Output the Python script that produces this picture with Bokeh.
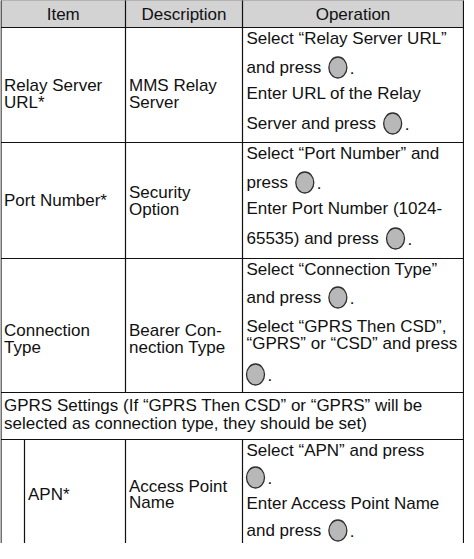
from bokeh.plotting import figure
from bokeh.models import Range1d
from bokeh.core.properties import value
from bokeh.embed import file_html
from bokeh.resources import INLINE

# ---------------- content ----------------
header_labels = ["Item", "Description", "Operation"]
item_lines = [["Relay Server", "URL*"], ["Port Number*"], ["Connection", "Type"], ["APN*"]]
description_lines = [["MMS Relay", "Server"], ["Security", "Option"],
                     ["Bearer Con-", "nection Type"], ["Access Point", "Name"]]
operation_lines = [
    ["Select “Relay Server URL”", "and press", "Enter URL of the Relay", "Server and press"],
    ["Select “Port Number” and", "press", "Enter Port Number (1024-", "65535) and press"],
    ["Select “Connection Type”", "and press", "Select “GPRS Then CSD”,", "“GPRS” or “CSD” and press", ""],
    ["Select “APN” and press", "", "Enter Access Point Name", "and press"],
]
operation_key = [
    [False, True, False, True],
    [False, True, False, True],
    [False, True, False, False, True],
    [False, True, False, True],
]
group_note = ["GPRS Settings (If “GPRS Then CSD” or “GPRS” will be",
              "selected as connection type, they should be set)"]

# ---------------- layout ----------------
W, H = 464, 543
col_x = [8.5, 133.0, 250.0, 471.0]
sub_x = 32.0
row_y = [7.5, 35.0, 150.0, 266.0, 400.0, 447.0, 562.0]
header_y = 21.5
op_y = [[46, 75, 101, 131], [161, 190, 216, 246], [277, 305, 334, 351, 382], [458, 485, 511, 538]]
item_y = [[93, 110], [208], [338, 355], [502]]
desc_y = [[93, 110], [200, 217], [338, 355], [494, 510]]
note_y = [413, 431]
FS = 17

AW = {' ': 278, '!': 278, '(': 333, ')': 333, '*': 389, ',': 278, '-': 333, '.': 278,
      'A': 667, 'B': 667, 'C': 722, 'D': 722, 'E': 667, 'F': 611, 'G': 778, 'H': 722, 'I': 278,
      'L': 556, 'M': 833, 'N': 722, 'O': 778, 'P': 667, 'R': 722, 'S': 667, 'T': 611, 'U': 722,
      'a': 556, 'b': 556, 'c': 500, 'd': 556, 'e': 556, 'f': 278, 'g': 556, 'h': 556, 'i': 222,
      'l': 222, 'm': 833, 'n': 556, 'o': 556, 'p': 556, 'r': 333, 's': 500, 't': 278, 'u': 556,
      'v': 500, 'w': 722, 'y': 500, '“': 333, '”': 333}


def tw(s):
    return sum(AW.get(c, 556) for c in s) * FS / 1000.0


p = figure(width=W, height=H, x_range=Range1d(8, 8 + W), y_range=Range1d(8 + H, 8),
           output_backend="svg", toolbar_location=None, min_border=0,
           x_axis_location=None, y_axis_location=None, outline_line_color=None)
p.grid.visible = False

# header background
p.quad(left=[col_x[0]], right=[col_x[3]], top=[row_y[0]], bottom=[row_y[1]],
       fill_color="#d3d3d3", line_color=None)

# grid lines
x0, y0, x1, y1 = [], [], [], []
for y in row_y[:6]:
    x0.append(col_x[0]); x1.append(col_x[3]); y0.append(y); y1.append(y)
for x in (col_x[0], col_x[3]):
    x0.append(x); x1.append(x); y0.append(row_y[0]); y1.append(row_y[6])
for x in (col_x[1], col_x[2]):
    x0 += [x, x]; x1 += [x, x]; y0 += [row_y[0], row_y[5]]; y1 += [row_y[4], row_y[6]]
x0.append(sub_x); x1.append(sub_x); y0.append(row_y[5]); y1.append(row_y[6])
p.segment(x0=x0, y0=y0, x1=x1, y1=y1, line_color="#111111", line_width=1.2)

font = value("Liberation Sans")
tcol = "#111111"

# header texts
hx = [(col_x[i] + col_x[i + 1]) / 2 for i in range(3)]
p.text(x=hx, y=[header_y] * 3, text=header_labels, text_font=font, text_font_size=f"{FS}px",
       text_align="center", text_baseline="middle", text_color=tcol)

tx, ty, tt = [], [], []
cx, cy = [], []
px_, py_ = [], []
for r in range(4):
    ix = (sub_x + 3.5) if r == 3 else (col_x[0] + 3)
    for s, y in zip(item_lines[r], item_y[r]):
        tx.append(ix); ty.append(y); tt.append(s)
    for s, y in zip(description_lines[r], desc_y[r]):
        tx.append(col_x[1] + 3.5); ty.append(y); tt.append(s)
    ox = col_x[2] + 4
    for s, key, y in zip(operation_lines[r], operation_key[r], op_y[r]):
        if s:
            tx.append(ox); ty.append(y); tt.append(s)
        if key:
            c = ox + (tw(s + " ") + 3 if s else 0) + 9
            cx.append(c); cy.append(y)
            px_.append(c + 12); py_.append(y)
for s, y in zip(group_note, note_y):
    tx.append(col_x[0] + 3); ty.append(y); tt.append(s)

p.text(x=tx, y=ty, text=tt, text_font=font, text_font_size=f"{FS}px",
       text_align="left", text_baseline="middle", text_color=tcol)
p.ellipse(x=cx, y=cy, width=18, height=21, fill_color="#b8b8b8", line_color="#2e2e2e", line_width=1.3)
p.text(x=px_, y=py_, text=["."] * len(px_), text_font=font, text_font_size=f"{FS}px",
       text_align="left", text_baseline="middle", text_color=tcol)

open("out.html", "w").write(file_html(p, INLINE))
